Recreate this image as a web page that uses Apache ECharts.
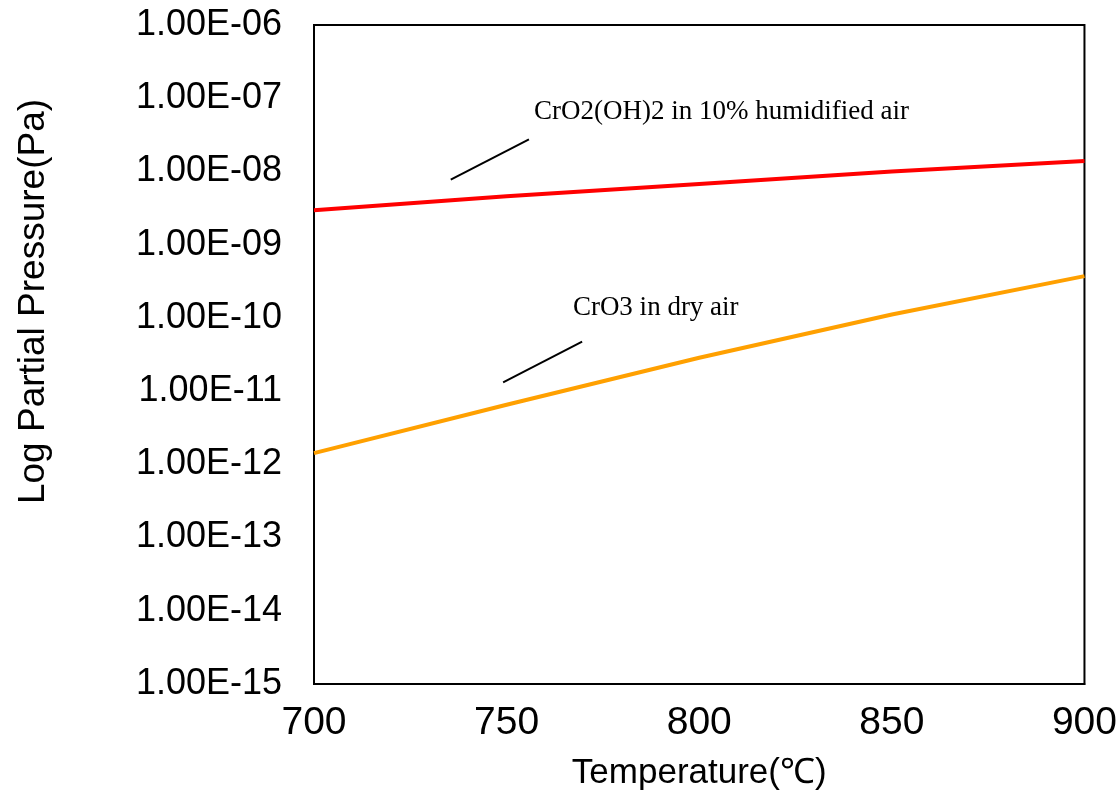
<!DOCTYPE html>
<html>
<head>
<meta charset="utf-8">
<script src="https://cdn.jsdelivr.net/npm/echarts@6/dist/echarts.min.js"></script>
<style>
  html, body { margin: 0; padding: 0; background: #fff; }
  #chart { width: 1120px; height: 800px; }
</style>
</head>
<body>
<div id="chart"></div>
<script>
// temperature (°C) and partial pressures (Pa)
const temperatures = [700, 750, 800, 850, 900];
const crO2OH2Humid = [2.95e-9, 4.57e-9, 6.73e-9, 1.0e-8, 1.39e-8];
const crO3Dry = [1.42e-12, 6.52e-12, 2.86e-11, 1.11e-10, 3.72e-10];

// leader lines and labels, in data coordinates
const humidLeader = [[735.5, 7.73e-9], [755.8, 2.75e-8]];
const humidLabel = { x: 757.1, y: 6.41e-8, text: 'CrO2(OH)2 in 10% humidified air' };
const dryLeader = [[749.1, 1.315e-11], [769.6, 4.73e-11]];
const dryLabel = { x: 767.2, y: 1.39e-10, text: 'CrO3 in dry air' };

const sans = '"Liberation Sans", Arial, sans-serif';
const serif = '"Liberation Serif", "Times New Roman", serif';

function sciLabel(v) {
  const exp = Math.round(Math.log10(v));
  const sign = exp < 0 ? '-' : '+';
  const abs = Math.abs(exp);
  return '1.00E' + sign + (abs < 10 ? '0' + abs : abs);
}

function annotate(leader, label) {
  return {
    markLine: {
      silent: true,
      symbol: 'none',
      animation: false,
      label: { show: false },
      lineStyle: { color: '#000', width: 2, type: 'solid' },
      data: [[{ coord: leader[0] }, { coord: leader[1] }]]
    },
    markPoint: {
      silent: true,
      symbol: 'circle',
      symbolSize: 0,
      animation: false,
      label: {
        show: true,
        position: 'right',
        distance: 0,
        formatter: label.text,
        color: '#000',
        fontFamily: serif,
        fontSize: 27
      },
      data: [{ coord: [label.x, label.y] }]
    }
  };
}

const chart = echarts.init(document.getElementById('chart'), null, { renderer: 'canvas' });

chart.setOption({
  animation: false,
  backgroundColor: '#fff',
  grid: {
    left: 314,
    right: 35,
    top: 25,
    bottom: 116,
    show: true,
    borderColor: '#000',
    borderWidth: 2,
    containLabel: false
  },
  xAxis: {
    type: 'value',
    min: 700,
    max: 900,
    interval: 50,
    name: 'Temperature(℃)',
    nameLocation: 'middle',
    nameGap: 72,
    nameTextStyle: { fontFamily: sans, fontSize: 35, color: '#000' },
    axisLine: { show: true, lineStyle: { color: '#000', width: 2 } },
    axisTick: { show: false },
    splitLine: { show: false },
    axisLabel: { fontFamily: sans, fontSize: 39, color: '#000', margin: 20 }
  },
  yAxis: {
    type: 'log',
    logBase: 10,
    min: 1e-15,
    max: 1e-6,
    name: 'Log Partial Pressure(Pa)',
    nameLocation: 'middle',
    nameGap: 262,
    nameTextStyle: {
      fontFamily: sans,
      fontSize: 37,
      color: '#000',
      padding: [0, 0, 0, 106]
    },
    axisLine: { show: true, lineStyle: { color: '#000', width: 2 } },
    axisTick: { show: false },
    splitLine: { show: false },
    minorTick: { show: false },
    axisLabel: {
      fontFamily: sans,
      fontSize: 36,
      color: '#000',
      margin: 32,
      formatter: sciLabel
    }
  },
  series: [
    Object.assign({
      name: 'CrO2(OH)2',
      type: 'line',
      data: temperatures.map((t, i) => [t, crO2OH2Humid[i]]),
      showSymbol: false,
      lineStyle: { color: '#ff0000', width: 4 },
      itemStyle: { color: '#ff0000' }
    }, annotate(humidLeader, humidLabel)),
    Object.assign({
      name: 'CrO3',
      type: 'line',
      data: temperatures.map((t, i) => [t, crO3Dry[i]]),
      showSymbol: false,
      lineStyle: { color: '#ffa000', width: 4 },
      itemStyle: { color: '#ffa000' }
    }, annotate(dryLeader, dryLabel))
  ]
});
</script>
</body>
</html>
